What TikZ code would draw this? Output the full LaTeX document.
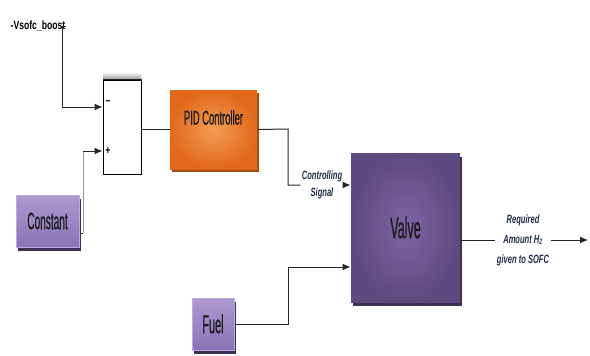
\documentclass[tikz,border=0pt]{standalone}
\usepackage{fontspec}
\usepackage[dvipsnames]{xcolor}
\usetikzlibrary{arrows.meta,shadows,positioning}
\newfontfamily\boxfont[FakeStretch=0.42,FakeBold=0.3]{Liberation Sans}
\newfontfamily\pidfont[FakeStretch=0.47,FakeBold=0.3]{Liberation Sans}
\newfontfamily\tagfont[FakeStretch=0.63]{Liberation Sans}
\newfontfamily\inputfont[FakeStretch=0.72]{Liberation Sans}
\definecolor{pidorange}{HTML}{E2691A}
\definecolor{pidlight}{HTML}{F49C55}
\definecolor{pidshadow}{HTML}{A24E10}
\definecolor{lilactop}{HTML}{AC9AD0}
\definecolor{lilacbot}{HTML}{8A74B6}
\definecolor{lilacedge}{HTML}{BBAADA}
\definecolor{plum}{HTML}{5D4A7E}
\definecolor{plumlight}{HTML}{7E65A5}
\definecolor{plumshadow}{HTML}{3E3054}
\definecolor{tagblue}{HTML}{1F2B45}
\tikzset{
    srcblock/.style={minimum width=63pt,minimum height=52pt,inner sep=0pt,draw=lilacedge,line width=1pt,top color=lilactop,bottom color=lilacbot,drop shadow={shadow xshift=2pt,shadow yshift=-4pt,fill=plumshadow,opacity=1},text=black!90,font=\boxfont\fontsize{24}{25}\selectfont},
    pidblock/.style={minimum width=87pt,minimum height=79pt,inner sep=0pt,inner color=pidlight,outer color=pidorange,drop shadow={shadow xshift=2pt,shadow yshift=-3pt,fill=pidshadow,opacity=1}},
    valveblock/.style={minimum width=109pt,minimum height=149pt,inner sep=0pt,inner color=plumlight,outer color=plum,drop shadow={shadow xshift=2pt,shadow yshift=-4pt,fill=plumshadow,opacity=1},text=black!90,font=\boxfont\fontsize{30}{31}\selectfont},
    sumblock/.style={minimum width=38pt,minimum height=94pt,inner sep=0pt,draw=black,fill=white,line width=1pt},
}

\begin{document}
\begin{tikzpicture}[x=1pt,y=-1pt,>={Latex[length=8pt,width=7pt]},line width=1pt,draw=black!85,
    tag/.style={font=\tagfont\bfseries\itshape\fontsize{12}{17}\selectfont,text=tagblue,align=center,inner sep=1pt},
    sign/.style={font=\inputfont\bfseries\fontsize{12}{12}\selectfont,inner sep=0pt}]
    \useasboundingbox (0,0) rectangle (590,356);

    \node[font=\inputfont\bfseries\fontsize{12}{12}\selectfont,inner sep=0pt] (vref) at (38,26) {-Vsofc\_boost};
    \shade[top color=white,bottom color=black!45] (103,72) rectangle (141,80);
    \node[sumblock] (sum) at (122,127) {};
    \draw[line width=1.6pt] (sum.north west) -- (sum.north east);
    \node[sign] (minus) at (108,103) {–};
    \node[sign] (plus) at (108,151) {+};
    \node[srcblock] (const) at (47.5,221) {Constant};
    \node[srcblock,minimum width=42pt,font=\boxfont\fontsize{26}{27}\selectfont] (fuel) at (213,324) {\raisebox{-3pt}{Fuel}};
    \node[pidblock,label={[yshift=12pt,text=black!90,font=\pidfont\fontsize{20}{21}\selectfont]center:PID Controller}] (pid) at (213.5,129.5) {};
    \node[valveblock] (valve) at (405.5,227.5) {Valve};
    \node[tag] (ctrl) at (322,185) {Controlling\\Signal};
    \node[tag,font=\tagfont\bfseries\itshape\fontsize{12}{20}\selectfont] (h2) at (523,240) {Required\\Amount H\textsubscript{2}\\given to SOFC};

    \coordinate (mjoin) at (62,107);
    \coordinate (pjoin) at (83,151);
    \coordinate (cjoin) at (83,233);
    \coordinate (pidbend) at (288,129);
    \coordinate (fuelbend) at (288,267);
    \coordinate (out) at (588,240);

    \draw[->] (vref.east) -| (mjoin) -- (mjoin -| sum.west);
    \draw (const.east |- cjoin) -- (cjoin);
    \draw[black!40] (cjoin) -- (pjoin);
    \draw[->] (pjoin) -- (pjoin -| sum.west);
    \draw (pid.west -| sum.east) -- (pid.west);
    \draw (pid.east) -- (pidbend) |- (ctrl.west);
    \draw[->] (ctrl.east) -- (ctrl.east -| valve.west);
    \draw[->] (fuel.east) -| (fuelbend) -- (fuelbend -| valve.west);
    \draw (valve.east |- h2) -- (h2.west);
    \draw[->] (h2.east) -- (out);
\end{tikzpicture}
\end{document}
